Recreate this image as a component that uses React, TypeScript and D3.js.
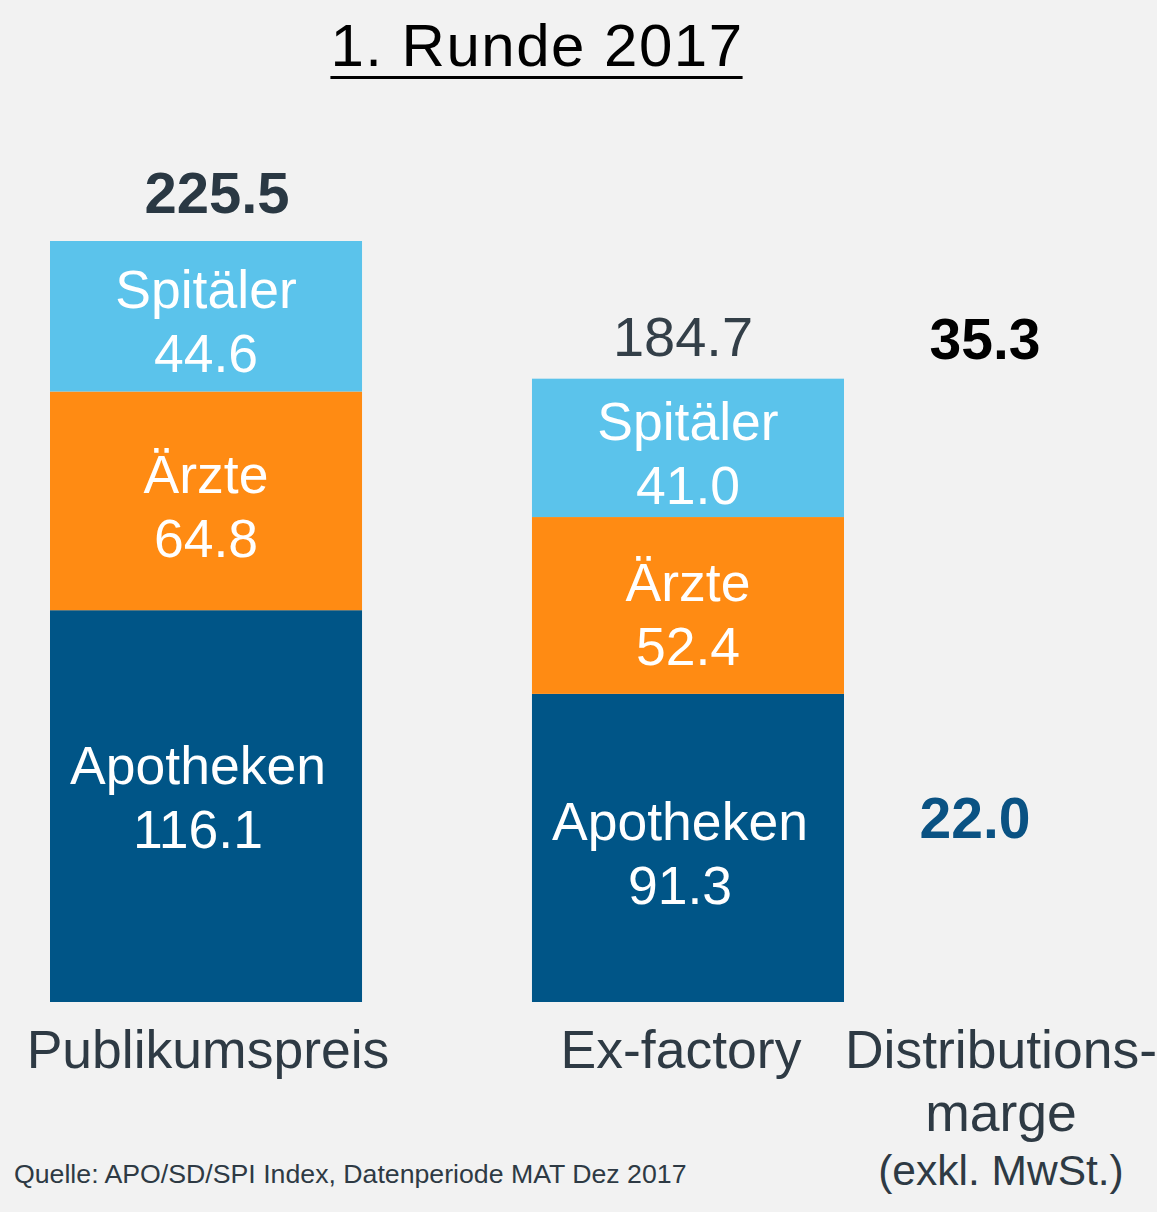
import React, { useEffect, useRef } from "react";
import * as d3 from "d3";

// values (CHF Mio.)
const categories = ["Publikumspreis", "Ex-factory"];
const segments = ["Apotheken", "Ärzte", "Spitäler"];
const apotheken = [116.1, 91.3];
const aerzte = [64.8, 52.4];
const spitaeler = [44.6, 41.0];
const totals = [225.5, 184.7];
const margeTotal = 35.3;
const margeApotheken = 22.0;
const margeLines = ["Distributions-", "marge", "(exkl. MwSt.)"];
const title = "1. Runde 2017";
const source = "Quelle: APO/SD/SPI Index, Datenperiode MAT Dez 2017";

const W = 1157;
const H = 1212;
const FONT = "'Liberation Sans', Arial, Helvetica, sans-serif";
const TEXT = "#2e3a44";

const colors: Record<string, string> = {
  Apotheken: "#005587",
  "Ärzte": "#ff8b13",
  "Spitäler": "#5bc3eb",
};

function App() {
  const svgRef = useRef<SVGSVGElement>(null);

  useEffect(() => {
    document.body.style.margin = "0";
    document.body.style.overflow = "hidden";
    const svg = d3.select(svgRef.current);
    svg.selectAll("*").remove();

    const rows = categories.map((c, i) => ({
      cat: c,
      Apotheken: apotheken[i],
      "Ärzte": aerzte[i],
      "Spitäler": spitaeler[i],
    }));

    const x = d3.scaleBand().domain(categories).range([50, 844]).paddingInner(0.3526);
    const y = d3.scaleLinear().domain([0, d3.max(totals)!]).range([1002, 241]);

    const stacked = d3.stack<any>().keys(segments)(rows);

    svg.append("rect").attr("width", W).attr("height", H).attr("fill", "#f2f2f2");

    // title with underline
    const t = svg
      .append("text")
      .attr("x", 537)
      .attr("y", 66)
      .attr("text-anchor", "middle")
      .attr("font-family", FONT)
      .attr("font-size", 60)
      .attr("letter-spacing", 1.5)
      .attr("fill", "#000")
      .text(title);
    const bb = (t.node() as SVGTextElement).getBBox();
    svg
      .append("line")
      .attr("x1", bb.x)
      .attr("x2", bb.x + bb.width - 1)
      .attr("y1", 77.5)
      .attr("y2", 77.5)
      .attr("stroke", "#000")
      .attr("stroke-width", 3);

    // stacked bars
    const layer = svg
      .selectAll(".layer")
      .data(stacked)
      .join("g")
      .attr("class", "layer")
      .attr("fill", (d) => colors[d.key]);

    layer
      .selectAll("rect")
      .data((d) => d.map((v) => ({ v, key: d.key })))
      .join("rect")
      .attr("x", (d) => x(d.v.data.cat)!)
      .attr("width", x.bandwidth())
      .attr("y", (d) => y(d.v[1]))
      .attr("height", (d) => y(d.v[0]) - y(d.v[1]));

    // segment labels
    stacked.forEach((s) => {
      s.forEach((v) => {
        const isApo = s.key === "Apotheken";
        const cx = x(v.data.cat)! + x.bandwidth() / 2 + (isApo ? -8 : 0);
        let cy = (y(v[0]) + y(v[1])) / 2;
        if (isApo && v.data.cat === "Publikumspreis") cy -= 14;
        if (s.key === "Ärzte" && v.data.cat === "Ex-factory") cy += 4;
        const g = svg
          .append("text")
          .attr("text-anchor", "middle")
          .attr("font-family", FONT)
          .attr("font-size", 53.5)
          .attr("fill", "#fff");
        g.append("tspan").attr("x", cx).attr("y", cy - 8).text(s.key);
        g.append("tspan")
          .attr("x", cx)
          .attr("y", cy + 56)
          .text(d3.format(".1f")(v[1] - v[0]));
      });
    });

    // totals
    svg
      .selectAll(".total")
      .data(totals)
      .join("text")
      .attr("class", "total")
      .attr("x", (d, i) => x(categories[i])! + x.bandwidth() / 2 + (i === 0 ? 11 : -5))
      .attr("y", (d, i) => y(d) - (i === 0 ? 28 : 23))
      .attr("text-anchor", "middle")
      .attr("font-family", FONT)
      .attr("font-size", (d, i) => (i === 0 ? 58 : 56))
      .attr("font-weight", (d, i) => (i === 0 ? "bold" : "normal"))
      .attr("fill", (d, i) => (i === 0 ? "#2a3843" : "#333f48"))
      .text((d) => d3.format(".1f")(d));

    // distribution margin
    const exApo = stacked[0][1];
    svg
      .append("text")
      .attr("x", 985)
      .attr("y", y(totals[1]) - 20)
      .attr("text-anchor", "middle")
      .attr("font-family", FONT)
      .attr("font-size", 57)
      .attr("font-weight", "bold")
      .attr("fill", "#000")
      .text(d3.format(".1f")(margeTotal));
    svg
      .append("text")
      .attr("x", 975)
      .attr("y", (y(exApo[0]) + y(exApo[1])) / 2 - 10)
      .attr("text-anchor", "middle")
      .attr("font-family", FONT)
      .attr("font-size", 57)
      .attr("font-weight", "bold")
      .attr("fill", "#0a5283")
      .text(d3.format(".1f")(margeApotheken));

    // category labels
    svg
      .selectAll(".cat")
      .data(categories)
      .join("text")
      .attr("class", "cat")
      .attr("x", (d) => x(d)! + x.bandwidth() / 2 + (d === "Ex-factory" ? -7 : 2))
      .attr("y", 1068)
      .attr("text-anchor", "middle")
      .attr("font-family", FONT)
      .attr("font-size", 53.5)
      .attr("fill", TEXT)
      .text((d) => d);

    const ml = svg
      .append("text")
      .attr("text-anchor", "middle")
      .attr("font-family", FONT)
      .attr("fill", TEXT);
    margeLines.forEach((l, i) => {
      ml.append("tspan")
        .attr("x", 1001)
        .attr("y", [1068, 1131, 1185][i])
        .attr("font-size", i === 2 ? 42.5 : 53.5)
        .text(l);
    });

    svg
      .append("text")
      .attr("x", 14)
      .attr("y", 1183)
      .attr("font-family", FONT)
      .attr("font-size", 26.7)
      .attr("fill", TEXT)
      .text(source);
  }, []);

  return <svg ref={svgRef} width={W} height={H} style={{ display: "block" }} />;
}

export default App;
